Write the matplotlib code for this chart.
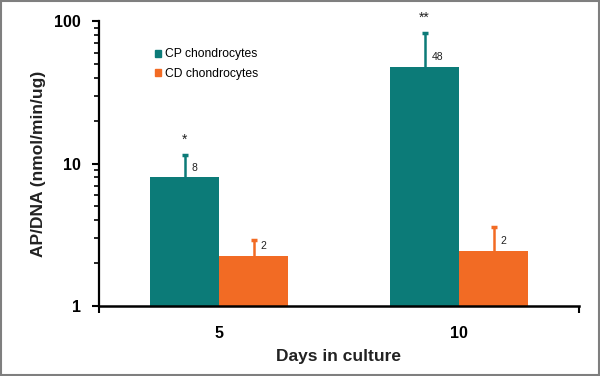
import matplotlib.pyplot as plt
from matplotlib.patches import Patch, Rectangle
import numpy as np

plt.rcParams['font.family'] = ['Liberation Sans', 'DejaVu Sans']

# Data
days = ['5', '10']
cp_mean = [8.0, 47.5]
cp_upper = [11.4, 82.3]      # top of error bar
cd_mean = [2.24, 2.43]
cd_upper = [2.92, 3.59]
cp_labels = ['8', '48']
cd_labels = ['2', '2']
cp_signif = ['*', '**']

teal = '#0c7b78'
orange = '#f26b24'

x = np.arange(len(days))
w = 0.2875

fig = plt.figure(figsize=(6, 3.76), dpi=100)
ax = fig.add_axes([0.165, 0.186, 0.8, 0.758])

# bars
ax.bar(x - w / 2, cp_mean, w, color=teal, zorder=2)
ax.bar(x + w / 2, cd_mean, w, color=orange, zorder=2)

# upper-only error bars (no cap at the bar top)
ax.vlines(x - w / 2, cp_mean, cp_upper, color=teal, linewidth=1.8, zorder=3)
ax.vlines(x + w / 2, cd_mean, cd_upper, color=orange, linewidth=1.8, zorder=3)
ax.plot(x - w / 2, cp_upper, linestyle='none', marker='_', markersize=4.5,
        markeredgewidth=2.5, color=teal, zorder=3)
ax.plot(x + w / 2, cd_upper, linestyle='none', marker='_', markersize=4.5,
        markeredgewidth=2.5, color=orange, zorder=3)

# value labels next to error bars
for i in range(len(days)):
    ax.annotate(cp_labels[i], (x[i] - w / 2, cp_mean[i]), xytext=(5, 7),
                textcoords='offset points', ha='left', va='center',
                fontsize=7.5, color='#222222')
    ax.annotate(cd_labels[i], (x[i] + w / 2, cd_mean[i]), xytext=(5, 7),
                textcoords='offset points', ha='left', va='center',
                fontsize=7.5, color='#222222')
    ax.annotate(cp_signif[i], (x[i] - w / 2, cp_upper[i]), xytext=(0, 6),
                textcoords='offset points', ha='center', va='bottom',
                fontsize=10, color='#222222')

ax.set_yscale('log')
ax.set_ylim(1, 100)
ax.set_xlim(-0.5, 1.5)

ax.set_xticks(x)
ax.set_xticklabels(days, fontsize=11.5, fontweight='bold')
ax.set_xticks([-0.5, 1.5], minor=True)
ax.tick_params(axis='x', which='major', length=0, pad=14)
ax.tick_params(axis='x', which='minor', length=5, width=1.5, direction='out')

ax.set_yticks([1, 10, 100])
ax.set_yticklabels(['1', '10', '100'], fontsize=11.5, fontweight='bold')
ax.tick_params(axis='y', which='major', length=5, width=1.5, direction='out', pad=8)
ax.tick_params(axis='y', which='minor', length=3.5, width=1.2, direction='out')

for side in ['top', 'right']:
    ax.spines[side].set_visible(False)
ax.spines['left'].set_linewidth(1.6)
ax.spines['bottom'].set_linewidth(1.8)

ax.set_xlabel('Days in culture', fontsize=12.5, fontweight='bold', color='#222222', labelpad=6)
ax.set_ylabel('AP/DNA (nmol/min/ug)', fontsize=12.5, fontweight='bold', color='#222222', labelpad=6)

handles = [Patch(color=teal, label='CP chondrocytes'),
           Patch(color=orange, label='CD chondrocytes')]
ax.legend(handles=handles, loc='upper left', bbox_to_anchor=(0.116, 0.904),
          frameon=False, fontsize=8.7, handlelength=0.5, handleheight=0.5,
          handletextpad=0.35, labelspacing=0.6, borderpad=0, borderaxespad=0)

# grey border around figure
fig.patches.append(Rectangle((0.001, 0.002), 0.997, 0.996, transform=fig.transFigure,
                             fill=False, edgecolor='#7f7f7f', linewidth=1.5))

plt.savefig('out.png', dpi=100)
